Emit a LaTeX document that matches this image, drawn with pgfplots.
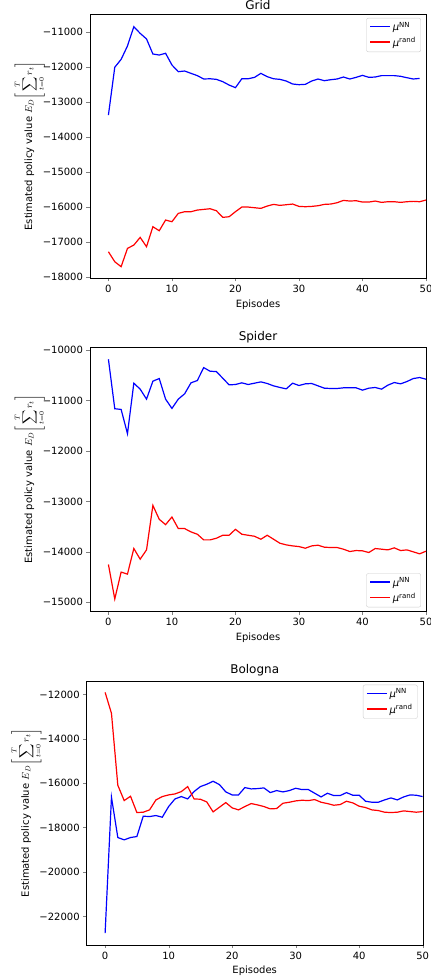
\documentclass[border=0pt]{standalone}
\usepackage{pgfplots}
\pgfplotsset{compat=1.18}
\usepackage{fontspec}
\setmainfont{DejaVu Sans}

\pgfplotsset{
  panel/.style={
    scale only axis, width=336pt, height=264pt,
    xmin=-2.9, xmax=50,
    xtick={0,10,...,50},
    tick align=outside, tick pos=left,
    major tick length=3.5pt,
    scaled y ticks=false,
    tick label style={font=\normalsize},
    xticklabel style={/pgf/number format/assume math mode=true},
    title style={font=\large, yshift=-5pt},
    xlabel={Episodes},
    ylabel={Estimated policy value $\displaystyle E_D\Biggl[\,\sum_{t=0}^{T} r_t\Biggr]$},
    ylabel style={yshift=-9pt},
    legend cell align=left,
    legend style={draw=black!20, rounded corners=2pt, font=\normalsize,
      inner xsep=3pt, inner ysep=2pt, row sep=1pt},
    legend image code/.code={\draw[##1, line width=1.4pt, sharp corners] (0pt,0.5pt) -- (20pt,0.5pt);},
  },
}

\begin{document}
\begin{tikzpicture}
\useasboundingbox (0,0) rectangle (431pt,-980pt);

% Grid
\begin{axis}[panel, at={(90pt,-14pt)}, anchor=north west,
  title={Grid},
  ymin=-18037, ymax=-10475,
  ytick={-18000,-17000,-16000,-15000,-14000,-13000,-12000,-11000},
  yticklabels={−18000,−17000,−16000,−15000,−14000,−13000,−12000,−11000},
  legend style={at={(0.985,0.985)}, anchor=north east},
]
\addplot[blue, line width=1.2pt] coordinates {
(0,-13370) (1,-12000) (2,-11775) (3,-11390) (4,-10838) (5,-11030) (6,-11190)
(7,-11620) (8,-11650) (9,-11600) (10,-11936) (11,-12127) (12,-12108) (13,-12175)
(14,-12240) (15,-12337) (16,-12330) (17,-12347) (18,-12413) (19,-12510) (20,-12585)
(21,-12330) (22,-12330) (23,-12290) (24,-12175) (25,-12270) (26,-12330) (27,-12347)
(28,-12395) (29,-12480) (30,-12500) (31,-12490) (32,-12395) (33,-12337) (34,-12385)
(35,-12357) (36,-12337) (37,-12280) (38,-12337) (39,-12290) (40,-12232) (41,-12290)
(42,-12280) (43,-12240) (44,-12240) (45,-12240) (46,-12260) (47,-12300) (48,-12337)
(49,-12320)
};
\addlegendentry{{\itshape μ}\textsuperscript{NN}}
\addplot[red, line width=1.2pt] coordinates {
(0,-17285) (1,-17571) (2,-17714) (3,-17189) (4,-17094) (5,-16874) (6,-17141)
(7,-16568) (8,-16683) (9,-16377) (10,-16425) (11,-16186) (12,-16138) (13,-16138)
(14,-16091) (15,-16072) (16,-16053) (17,-16110) (18,-16300) (19,-16282) (20,-16138)
(21,-16005) (22,-16005) (23,-16024) (24,-16043) (25,-15976) (26,-15928) (27,-15957)
(28,-15938) (29,-15919) (30,-15986) (31,-15995) (32,-15986) (33,-15967) (34,-15928)
(35,-15919) (36,-15881) (37,-15814) (38,-15833) (39,-15823) (40,-15862) (41,-15862)
(42,-15833) (43,-15871) (44,-15852) (45,-15852) (46,-15871) (47,-15852) (48,-15842)
(49,-15852) (50,-15804)
};
\addlegendentry{{\itshape μ}\textsuperscript{rand}}
\end{axis}

% Spider
\begin{axis}[panel, at={(90pt,-347.3pt)}, anchor=north west,
  title={Spider},
  ymin=-15178, ymax=-9947,
  ytick={-15000,-14000,-13000,-12000,-11000,-10000},
  yticklabels={−15000,−14000,−13000,−12000,−11000,−10000},
  legend style={at={(0.985,0.015)}, anchor=south east},
]
\addplot[blue, line width=1.2pt] coordinates {
(0,-10184) (1,-11164) (2,-11178) (3,-11658) (4,-10658) (5,-10776) (6,-10974)
(7,-10618) (8,-10566) (9,-10974) (10,-11158) (11,-10974) (12,-10868) (13,-10651)
(14,-10605) (15,-10349) (16,-10421) (17,-10428) (18,-10559) (19,-10691) (20,-10684)
(21,-10651) (22,-10684) (23,-10658) (24,-10632) (25,-10664) (26,-10711) (27,-10743)
(28,-10770) (29,-10658) (30,-10704) (31,-10671) (32,-10664) (33,-10711) (34,-10757)
(35,-10763) (36,-10763) (37,-10750) (38,-10750) (39,-10750) (40,-10796) (41,-10757)
(42,-10743) (43,-10776) (44,-10697) (45,-10645) (46,-10671) (47,-10625) (48,-10566)
(49,-10546) (50,-10579)
};
\addlegendentry{{\itshape μ}\textsuperscript{NN}}
\addplot[red, line width=1.2pt] coordinates {
(0,-14250) (1,-14934) (2,-14401) (3,-14441) (4,-13934) (5,-14145) (6,-13961)
(7,-13079) (8,-13355) (9,-13461) (10,-13309) (11,-13539) (12,-13539) (13,-13605)
(14,-13651) (15,-13763) (16,-13763) (17,-13730) (18,-13671) (19,-13671) (20,-13553)
(21,-13651) (22,-13671) (23,-13691) (24,-13750) (25,-13671) (26,-13750) (27,-13829)
(28,-13862) (29,-13882) (30,-13895) (31,-13928) (32,-13882) (33,-13868) (34,-13908)
(35,-13914) (36,-13914) (37,-13947) (38,-13993) (39,-13974) (40,-13980) (41,-14013)
(42,-13934) (43,-13947) (44,-13961) (45,-13921) (46,-13974) (47,-13961) (48,-14000)
(49,-14039) (50,-13987)
};
\addlegendentry{{\itshape μ}\textsuperscript{rand}}
\end{axis}

% Bologna
\begin{axis}[panel, at={(86.7pt,-680.7pt)}, anchor=north west,
  title={Bologna},
  ymin=-23274, ymax=-11385,
  ytick={-22000,-20000,-18000,-16000,-14000,-12000},
  yticklabels={−22000,−20000,−18000,−16000,−14000,−12000},
  legend style={at={(0.985,0.985)}, anchor=north east},
]
\addplot[blue, line width=1.2pt] coordinates {
(0,-22750) (1,-16633) (2,-18447) (3,-18552) (4,-18447) (5,-18402) (6,-17487)
(7,-17502) (8,-17457) (9,-17532) (10,-17052) (11,-16708) (12,-16603) (13,-16708)
(14,-16378) (15,-16153) (16,-16048) (17,-15913) (18,-16063) (19,-16393) (20,-16528)
(21,-16528) (22,-16198) (23,-16258) (24,-16243) (25,-16213) (26,-16423) (27,-16333)
(28,-16393) (29,-16333) (30,-16228) (31,-16288) (32,-16288) (33,-16453) (34,-16618)
(35,-16453) (36,-16558) (37,-16558) (38,-16423) (39,-16543) (40,-16543) (41,-16813)
(42,-16858) (43,-16858) (44,-16753) (45,-16663) (46,-16753) (47,-16618) (48,-16528)
(49,-16543) (50,-16603)
};
\addlegendentry{{\itshape μ}\textsuperscript{NN}}
\addplot[red, line width=1.2pt] coordinates {
(0,-11910) (1,-12855) (2,-16093) (3,-16783) (4,-16588) (5,-17322) (6,-17307)
(7,-17202) (8,-16753) (9,-16603) (10,-16528) (11,-16483) (12,-16378) (13,-16153)
(14,-16708) (15,-16723) (16,-16843) (17,-17292) (18,-17082) (19,-16873) (20,-17112)
(21,-17202) (22,-17052) (23,-16918) (24,-16978) (25,-17052) (26,-17157) (27,-17142)
(28,-16903) (29,-16858) (30,-16798) (31,-16768) (32,-16783) (33,-16738) (34,-16858)
(35,-16918) (36,-16993) (37,-16963) (38,-16813) (39,-16888) (40,-17037) (41,-17097)
(42,-17202) (43,-17232) (44,-17307) (45,-17322) (46,-17307) (47,-17247) (48,-17277)
(49,-17307) (50,-17277)
};
\addlegendentry{{\itshape μ}\textsuperscript{rand}}
\end{axis}
\end{tikzpicture}
\end{document}
